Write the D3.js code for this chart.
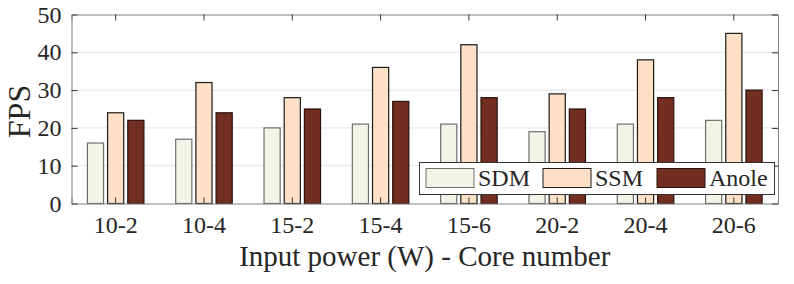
<!DOCTYPE html>
<html>
<head>
<meta charset="utf-8">
<script src="https://cdn.jsdelivr.net/npm/d3@7"></script>
<style>
  body { margin: 0; background: #fff; }
</style>
</head>
<body>
<div id="chart"></div>
<script>
// data
const categories = ["10-2", "10-4", "15-2", "15-4", "15-6", "20-2", "20-4", "20-6"];
const seriesNames = ["SDM", "SSM", "Anole"];
const sdm = [16, 17, 20, 21, 21, 19, 21, 22];
const ssm = [24, 32, 28, 36, 42, 29, 38, 45];
const anole = [22, 24, 25, 27, 28, 25, 28, 30];
const yTicks = [0, 10, 20, 30, 40, 50];

const fills = ["#f2f4e5", "#fee0c6", "#722e20"];
const strokes = ["#6e6e6e", "#1a1a1a", "#2a120c"];
const serif = "'Liberation Serif', monospace";
const textColor = "#262626";

const width = 794, height = 284;
const margin = { left: 71.5, right: 16, top: 14.5, bottom: 80.5 };

const svg = d3.select("#chart").append("svg")
    .attr("width", width)
    .attr("height", height);

const x = d3.scaleBand()
    .domain(categories)
    .range([margin.left, width - margin.right]);

const xs = d3.scaleBand()
    .domain(seriesNames)
    .range([x.bandwidth() * 0.18, x.bandwidth() * 0.82])
    .paddingInner(0.2);

const y = d3.scaleLinear()
    .domain([0, 50])
    .range([height - margin.bottom, margin.top]);

// gridlines
svg.append("g")
    .selectAll("line")
    .data(yTicks.slice(1, -1))
    .join("line")
    .attr("x1", margin.left)
    .attr("x2", width - margin.right)
    .attr("y1", d => y(d))
    .attr("y2", d => y(d))
    .style("stroke", "#e3e3e3")
    .style("stroke-width", 1);

// bars
const rows = categories.map((c, i) => ({ cat: c, vals: [sdm[i], ssm[i], anole[i]] }));
const groups = svg.append("g")
    .selectAll("g")
    .data(rows)
    .join("g")
    .attr("transform", d => `translate(${x(d.cat)},0)`);

groups.selectAll("rect")
    .data(d => d.vals.map((v, k) => ({ name: seriesNames[k], v: v, k: k })))
    .join("rect")
    .attr("x", d => xs(d.name))
    .attr("y", d => y(d.v))
    .attr("width", xs.bandwidth())
    .attr("height", d => y(0) - y(d.v))
    .style("fill", d => fills[d.k])
    .style("stroke", d => strokes[d.k])
    .style("stroke-width", 1.2);

// axes
const yAxis = d3.axisLeft(y).tickValues(yTicks).tickSize(-6).tickPadding(10);
svg.append("g")
    .attr("transform", `translate(${margin.left},0)`)
    .call(yAxis);

const yAxisR = d3.axisRight(y).tickValues(yTicks).tickSize(-6).tickFormat("");
svg.append("g")
    .attr("transform", `translate(${width - margin.right},0)`)
    .call(yAxisR);

const xAxis = d3.axisBottom(x).tickSize(-6).tickPadding(12);
svg.append("g")
    .attr("transform", `translate(0,${height - margin.bottom})`)
    .call(xAxis);

const xAxisT = d3.axisTop(x).tickSize(-6).tickFormat("");
svg.append("g")
    .attr("transform", `translate(0,${margin.top})`)
    .call(xAxisT);

svg.selectAll("g").attr("font-family", null).attr("font-size", null);
svg.selectAll(".tick text")
    .attr("font-family", serif)
    .attr("font-size", 24)
    .attr("fill", textColor);
svg.selectAll(".domain").style("stroke", "#808080");
svg.selectAll(".tick line").style("stroke", "#333");

// axis titles
svg.append("text")
    .attr("x", (margin.left + width - margin.right) / 2)
    .attr("y", 266)
    .attr("text-anchor", "middle")
    .attr("font-family", serif)
    .attr("font-size", 29)
    .attr("fill", textColor)
    .text("Input power (W) - Core number");

svg.append("text")
    .attr("transform", `translate(30,111.5) rotate(-90)`)
    .attr("text-anchor", "middle")
    .attr("font-family", serif)
    .attr("font-size", 32)
    .attr("fill", textColor)
    .text("FPS");

// legend
const legend = svg.append("g");
legend.append("rect")
    .attr("x", 419.5)
    .attr("y", 162.5)
    .attr("width", 355)
    .attr("height", 32)
    .style("fill", "#fff")
    .style("stroke", "#333")
    .style("stroke-width", 1);

const legendX = [426, 543, 657];
seriesNames.forEach((n, k) => {
    legend.append("rect")
        .attr("x", legendX[k])
        .attr("y", 168.5)
        .attr("width", 48)
        .attr("height", 19)
        .style("fill", fills[k])
        .style("stroke", strokes[k])
        .style("stroke-width", 1);
    legend.append("text")
        .attr("x", legendX[k] + 52)
        .attr("y", 185.5)
        .attr("font-family", serif)
        .attr("font-size", 24)
        .attr("fill", textColor)
        .text(n);
});
</script>
</body>
</html>
